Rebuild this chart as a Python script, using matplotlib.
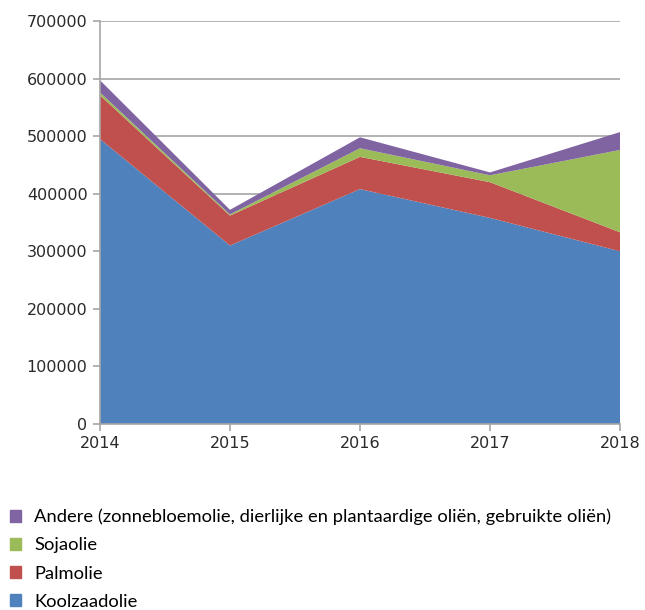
import numpy as np
import matplotlib
matplotlib.use('Agg')
import matplotlib.pyplot as plt
from matplotlib.patches import Patch

jaren = [2014, 2015, 2016, 2017, 2018]
koolzaadolie = [495000, 310000, 408000, 358000, 300000]
palmolie = [76000, 52000, 56000, 62000, 33000]
sojaolie = [5000, 2000, 15000, 12000, 143000]
andere = [21000, 8000, 19000, 5000, 31000]

labels = ['Koolzaadolie', 'Palmolie', 'Sojaolie',
          'Andere (zonnebloemolie, dierlijke en plantaardige oliën, gebruikte oliën)']
kleuren = ['#4F81BD', '#C0504D', '#9BBB59', '#8064A2']

fig = plt.figure(figsize=(6.45, 6.1), dpi=100)
ax = fig.add_axes([100/645, 1 - 424/610, 520/645, 403/610])

ax.stackplot(jaren, koolzaadolie, palmolie, sojaolie, andere, colors=kleuren, linewidth=0)

ax.set_xlim(2014, 2018)
ax.set_ylim(0, 700000)
ax.set_xticks(jaren)
ax.set_yticks(np.arange(0, 700001, 100000))
ax.yaxis.grid(True, color='#a6a6a6', linewidth=1.2)
ax.set_axisbelow(True)
for s in ['top', 'right']:
    ax.spines[s].set_visible(False)
for s in ['left', 'bottom']:
    ax.spines[s].set_color('#a6a6a6')
    ax.spines[s].set_linewidth(1.2)
ax.tick_params(axis='both', colors='#a6a6a6', length=5, width=1.2, labelsize=11.5, labelcolor='#2a2a2a')
ax.tick_params(axis='y', pad=4)
ax.tick_params(axis='x', pad=4)

# legenda, omgekeerde volgorde
handles = [Patch(color=kleuren[i], label=labels[i]) for i in range(3, -1, -1)]
fig.legend(handles=handles, loc='upper left', bbox_to_anchor=(-0.005, 1 - 496/610),
           frameon=False, handlelength=0.6, handleheight=0.6, borderaxespad=0.3,
           handletextpad=0.75, labelspacing=0.66, prop={'family': 'Lato', 'size': 13.2})

fig.savefig('out.png', dpi=100)
